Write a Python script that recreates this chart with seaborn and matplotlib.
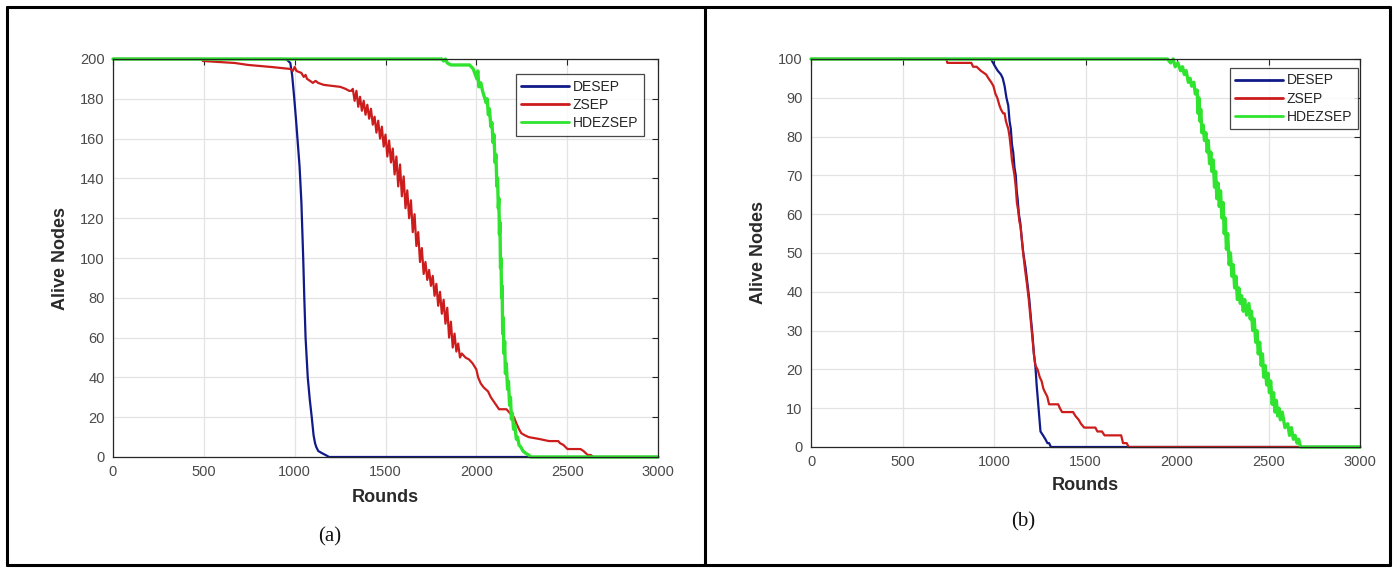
import matplotlib
matplotlib.use("Agg")
import matplotlib.pyplot as plt
import seaborn as sns
import pandas as pd
from matplotlib.lines import Line2D

# ---------------- data ----------------
# Panel (a): 200 nodes
desep_a_r = [0, 950, 965, 976, 986, 997, 1007, 1017, 1027, 1037, 1047, 1053, 1060, 1066, 1072, 1083,
             1094, 1104, 1112, 1119, 1130, 1149, 1170, 1190, 3000]
desep_a_v = [200, 200, 199, 198, 192, 181, 170, 158, 146, 128, 100, 80, 60, 50, 40, 29,
             20, 11, 7, 5, 3, 2, 1, 0, 0]

zsep_a_r = [0, 490, 495, 670, 745, 870, 976, 990, 1000, 1010, 1037, 1050, 1060, 1068, 1085, 1100, 1115,
            1129, 1160, 1251, 1280, 1300, 1312,
            1320, 1330, 1340, 1350, 1360, 1370, 1380, 1390, 1400, 1410, 1420, 1430, 1440, 1450, 1460,
            1470, 1480, 1490, 1500, 1510, 1520, 1530, 1540, 1550, 1560, 1570, 1580, 1590, 1600, 1610,
            1620, 1630, 1640, 1650, 1660, 1670, 1680, 1690, 1700, 1710, 1720, 1730, 1740, 1750, 1760,
            1770, 1780, 1790, 1800, 1810, 1820, 1830, 1840, 1850, 1860, 1870, 1880, 1890, 1900, 1910,
            1920, 1940, 1960, 1980, 2000, 2010, 2024, 2040, 2064, 2080, 2095, 2110, 2125, 2166, 2185,
            2207, 2220, 2235, 2247, 2265, 2288, 2349, 2400, 2451, 2460, 2480, 2502, 2573, 2590, 2613,
            2630, 2644, 3000]
zsep_a_v = [200, 200, 199, 198, 197, 196, 195, 194, 196, 194, 193, 191, 192, 190, 189, 188, 189,
            188, 187, 186, 185, 184, 184,
            185, 179, 184, 176, 181, 174, 179, 172, 177, 170, 175, 167, 171, 163, 169,
            160, 166, 156, 162, 151, 159, 148, 155, 142, 151, 136, 147, 131, 141, 125,
            134, 120, 129, 113, 122, 106, 113, 98, 105, 92, 98, 89, 94, 86, 91,
            81, 87, 76, 83, 72, 79, 67, 75, 60, 68, 55, 62, 53, 57, 50,
            52, 50, 49, 47, 44, 40, 37, 35, 33, 30, 28, 26, 24, 24, 22,
            20, 17, 14, 12, 11, 10, 9, 8, 8, 7, 6, 4, 4, 3, 1,
            1, 0, 0]

hdez_a_r = [0, 1810, 1820, 1830, 1840, 1861, 1963, 1983, 1995, 2003, 2008, 2014, 2025, 2034, 2044,
            2054, 2060, 2066, 2072, 2080, 2086, 2092, 2097, 2103, 2108, 2113, 2117, 2121, 2124, 2127,
            2130, 2133, 2136, 2139, 2142, 2145, 2148, 2152, 2156, 2160, 2165, 2172, 2177, 2183, 2188,
            2193, 2198, 2205, 2212, 2220, 2227, 2235, 2245, 2257, 2270, 2288, 2300, 3000]
hdez_a_v = [200, 200, 199, 200, 198, 197, 197, 195, 192, 190, 194, 186, 188, 184, 181,
            178, 180, 172, 175, 166, 168, 158, 162, 148, 152, 136, 140, 125, 130, 112,
            118, 95, 100, 80, 86, 62, 70, 52, 58, 42, 47, 34, 38, 26, 30,
            19, 22, 14, 16, 9, 10, 6, 5, 3, 2, 1, 0, 0]

# Panel (b): 100 nodes
desep_b_r = [0, 983, 995, 1007, 1020, 1038, 1048, 1058, 1068, 1078, 1085, 1092, 1098, 1105, 1112, 1119,
             1124, 1129, 1136, 1143, 1149, 1160, 1173, 1183, 1193, 1202, 1210, 1218, 1226, 1233, 1240,
             1247, 1254, 1268, 1281, 1292, 1301, 1311, 3000]
desep_b_v = [100, 100, 99, 98, 97, 96, 95, 93, 90, 88, 84, 82, 78, 76, 72, 70,
             66, 64, 60, 58, 55, 50, 46, 42, 38, 33, 29, 24, 21, 16, 12,
             8, 4, 3, 2, 1, 1, 0, 0]

zsep_b_r = [0, 740, 745, 876, 886, 905, 927, 957, 970, 985, 997, 1008, 1018, 1030, 1038, 1050, 1058,
            1065, 1078, 1085, 1092, 1098, 1105, 1112, 1119, 1125, 1132, 1139, 1145, 1157, 1169, 1180,
            1190, 1200, 1210, 1218, 1226, 1238, 1250, 1260, 1270, 1280, 1291, 1301, 1351, 1360, 1372,
            1432, 1445, 1463, 1475, 1493, 1554, 1565, 1590, 1604, 1695, 1705, 1725, 1736, 3000]
zsep_b_v = [100, 100, 99, 99, 98, 98, 97, 96, 95, 94, 93, 91, 90, 88, 87, 86, 86,
            84, 82, 80, 77, 74, 72, 70, 67, 63, 61, 58, 57, 51, 46, 42,
            38, 33, 28, 24, 21, 20, 18, 17, 15, 14, 13, 11, 11, 10, 9,
            9, 8, 7, 6, 5, 5, 4, 4, 3, 3, 1, 1, 0, 0]

hdez_b_r = [0, 1948, 1965, 1979, 1990, 2005, 2019, 2030, 2040, 2050, 2062, 2072, 2080, 2092, 2100,
            2110, 2115, 2120, 2125, 2130, 2136, 2143, 2150, 2158, 2165, 2171, 2178, 2185, 2191, 2198,
            2205, 2211, 2218, 2225, 2231, 2238, 2245, 2252, 2258, 2264, 2270, 2277, 2285, 2292, 2300,
            2307, 2315, 2322, 2330, 2338, 2346, 2353, 2362, 2370, 2380, 2393, 2400, 2407, 2414, 2422,
            2430, 2437, 2444, 2452, 2460, 2467, 2474, 2482, 2490, 2498, 2505, 2512, 2520, 2528, 2535,
            2543, 2550, 2558, 2565, 2575, 2590, 2605, 2615, 2625, 2636, 2645, 2656, 2665, 2675, 2686,
            3000]
hdez_b_v = [100, 100, 99, 100, 98, 99, 97, 98, 96, 97, 94, 95, 93, 94, 91,
            92, 86, 90, 84, 87, 81, 83, 79, 81, 76, 79, 73, 76, 71, 74,
            67, 71, 64, 68, 62, 66, 59, 63, 55, 59, 51, 55, 47, 50, 44,
            47, 41, 44, 38, 41, 37, 39, 35, 38, 34, 37, 33, 35, 30, 33,
            27, 30, 24, 27, 21, 24, 18, 21, 16, 19, 14, 17, 11, 14, 9,
            12, 8, 10, 7, 9, 5, 6, 3, 5, 2, 3, 1, 2, 0, 0,
            0]

series_names = ["DESEP", "ZSEP", "HDEZSEP"]
x_ticks = [0, 500, 1000, 1500, 2000, 2500, 3000]
y_ticks_a = [0, 20, 40, 60, 80, 100, 120, 140, 160, 180, 200]
y_ticks_b = [0, 10, 20, 30, 40, 50, 60, 70, 80, 90, 100]
captions = ["(a)", "(b)"]

# ---------------- style ----------------
sns.set_style("white")
plt.rcParams['font.family'] = ['Liberation Sans', 'DejaVu Sans']

W, H = 1394, 568
fig = plt.figure(figsize=(W / 100, H / 100), dpi=100)
fig.patch.set_facecolor("white")

colors = ["#101a88", "#cc1c1c", "#2fe32f"]
widths = [1.6, 1.6, 2.4]


def px_axes(l, r, t, b):
    return [l / W, (H - b) / H, (r - l) / W, (b - t) / H]


panels = [
    dict(rect=px_axes(113, 658, 59, 457), data=[(desep_a_r, desep_a_v), (zsep_a_r, zsep_a_v), (hdez_a_r, hdez_a_v)],
         yt=y_ticks_a, ymax=200, leg=(0.974, 0.962), xlab=-0.103, ylab=-0.097,
         cap=(330, 537)),
    dict(rect=px_axes(811, 1360, 59, 447), data=[(desep_b_r, desep_b_v), (zsep_b_r, zsep_b_v), (hdez_b_r, hdez_b_v)],
         yt=y_ticks_b, ymax=100, leg=(0.996, 0.977), xlab=-0.098, ylab=-0.095,
         cap=(1023, 522)),
]

for i, p in enumerate(panels):
    ax = fig.add_axes(p["rect"])
    for (r, v), name, c, lw in zip(p["data"], series_names, colors, widths):
        df = pd.DataFrame({"Rounds": r, "Alive": v})
        sns.lineplot(data=df, x="Rounds", y="Alive", ax=ax, color=c, linewidth=lw,
                     label=name, estimator=None, sort=False, clip_on=False)
    ax.set_xlim(0, 3000)
    ax.set_ylim(0, p["ymax"])
    ax.set_xticks(x_ticks)
    ax.set_yticks(p["yt"])
    ax.grid(True, color="#e3e3e3", linewidth=0.9)
    ax.set_axisbelow(True)
    for s in ax.spines.values():
        s.set_color("#262626")
        s.set_linewidth(0.9)
        s.set_visible(True)
    ax.tick_params(axis="both", which="both", direction="in", length=4, width=0.8,
                   top=True, right=True, colors="#262626", labelcolor="#4a4a4a",
                   labelsize=10.5, pad=6)
    ax.set_xlabel("Rounds", fontsize=13, fontweight="bold", color="#2a2a2a", va="center")
    ax.xaxis.set_label_coords(0.5, p["xlab"])
    ax.set_ylabel("Alive Nodes", fontsize=13, fontweight="bold", color="#2a2a2a", va="center")
    ax.yaxis.set_label_coords(p["ylab"], 0.5)
    leg = ax.legend(loc="upper right", bbox_to_anchor=p["leg"], borderaxespad=0,
                    fontsize=10, frameon=True, fancybox=False, handlelength=3.4,
                    handletextpad=0.3, labelspacing=0.3, borderpad=0.4)
    leg.get_frame().set_edgecolor("#1a1a1a")
    leg.get_frame().set_linewidth(0.9)
    for t in leg.get_texts():
        t.set_color("#262626")
    for h in leg.get_lines():
        h.set_linewidth(2.0)
    fig.text(p["cap"][0] / W, 1 - p["cap"][1] / H, captions[i], ha="center", va="center",
             fontsize=15, family=["Liberation Serif", "DejaVu Serif"], color="#111111")

# outer table frame
def fig_line(x0, y0, x1, y1):
    fig.add_artist(Line2D([x0 / W, x1 / W], [1 - y0 / H, 1 - y1 / H], color="black",
                          linewidth=2.2, transform=fig.transFigure))

fig_line(7, 7, 1390, 7)
fig_line(7, 565, 1390, 565)
fig_line(7, 7, 7, 565)
fig_line(1390, 7, 1390, 565)
fig_line(705, 7, 705, 565)

fig.savefig("out.png", dpi=100, facecolor="white")
